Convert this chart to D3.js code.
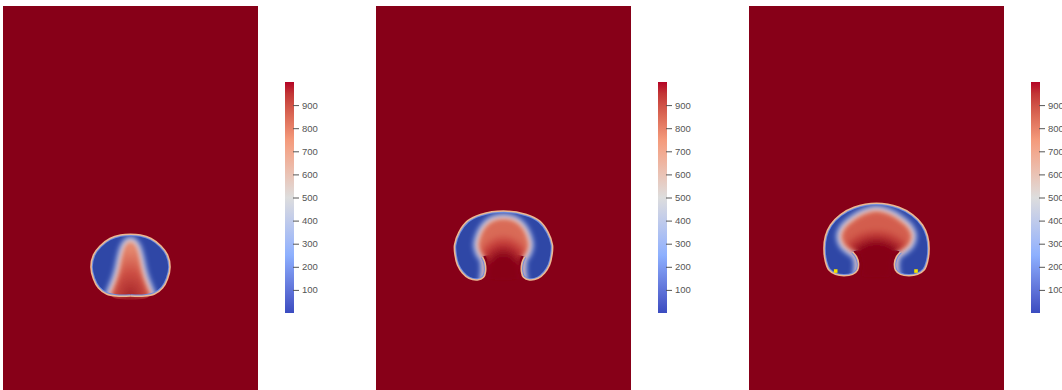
<!DOCTYPE html>
<html>
<head>
<meta charset="utf-8" />
<style>
  body { margin: 0; background: #fff; }
  svg { display: block; }
</style>
</head>
<body>
<svg id="chart"></svg>
<script src="https://d3js.org/d3.v7.min.js"></script>
<script>
const WIDTH = 1062
const HEIGHT = 390

// colour bar ticks
const TICKS = [100, 200, 300, 400, 500, 600, 700, 800, 900]
const RANGE = [0, 1000]

// bubble outline for each frame (x in [-1, 1], y in [0, 3]),
// open line from the inner cusp on the left, around, to the inner cusp on the right
const outline1 = [
  [0, 0.728], [-0.110, 0.728], [-0.188, 0.744], [-0.251, 0.791], [-0.290, 0.862],
  [-0.310, 0.956], [-0.290, 1.050], [-0.239, 1.120], [-0.161, 1.179], [-0.078, 1.206],
  [0, 1.212],
  [0.078, 1.206], [0.161, 1.179], [0.239, 1.120], [0.290, 1.050], [0.310, 0.956],
  [0.290, 0.862], [0.251, 0.791], [0.188, 0.744], [0.110, 0.728], [0.001, 0.728]
]
const outline2 = [
  [-0.165, 1.034], [-0.145, 0.987], [-0.141, 0.920], [-0.157, 0.875], [-0.204, 0.854],
  [-0.271, 0.867], [-0.322, 0.909], [-0.361, 0.971], [-0.380, 1.050], [-0.384, 1.128],
  [-0.349, 1.229], [-0.282, 1.316], [-0.180, 1.367],
  [0, 1.394],
  [0.180, 1.367], [0.282, 1.316], [0.349, 1.229], [0.384, 1.128], [0.380, 1.050],
  [0.361, 0.971], [0.322, 0.909], [0.271, 0.867], [0.204, 0.854], [0.157, 0.875],
  [0.141, 0.920], [0.145, 0.987], [0.165, 1.034]
]
const outline3 = [
  [-0.188, 1.075], [-0.157, 1.036], [-0.141, 0.985], [-0.149, 0.932], [-0.188, 0.898],
  [-0.255, 0.887], [-0.322, 0.898], [-0.373, 0.932], [-0.400, 0.997], [-0.412, 1.102],
  [-0.400, 1.198], [-0.361, 1.285], [-0.282, 1.366], [-0.176, 1.424],
  [0, 1.455],
  [0.176, 1.424], [0.282, 1.366], [0.361, 1.285], [0.400, 1.198], [0.412, 1.102],
  [0.400, 0.997], [0.373, 0.932], [0.322, 0.898], [0.255, 0.887], [0.188, 0.898],
  [0.149, 0.932], [0.141, 0.985], [0.157, 1.036], [0.188, 1.075]
]

// heavy fluid pushing into the bubble (closed shapes)
const core1 = [
  [0, 1.136], [-0.024, 1.112], [-0.039, 1.073], [-0.055, 1.010], [-0.071, 0.932],
  [-0.094, 0.854], [-0.125, 0.775], [-0.141, 0.720],
  [0.141, 0.720], [0.125, 0.775], [0.094, 0.854], [0.071, 0.932],
  [0.055, 1.010], [0.039, 1.073], [0.024, 1.112]
]
const core2 = [
  [0, 1.316], [-0.078, 1.300], [-0.133, 1.253], [-0.165, 1.191], [-0.180, 1.128],
  [-0.165, 1.073], [-0.133, 1.026], [-0.125, 0.963], [-0.125, 0.900], [-0.130, 0.860],
  [0.130, 0.860], [0.125, 0.900], [0.125, 0.963], [0.133, 1.026], [0.165, 1.073],
  [0.180, 1.128], [0.165, 1.191], [0.133, 1.253], [0.078, 1.300]
]
const core3 = [
  [0, 1.379], [-0.094, 1.355], [-0.173, 1.308], [-0.235, 1.253], [-0.259, 1.198],
  [-0.243, 1.144], [-0.200, 1.104], [-0.145, 1.065], [-0.122, 0.987], [-0.125, 0.916],
  [-0.130, 0.880],
  [0.130, 0.880], [0.125, 0.916], [0.122, 0.987], [0.145, 1.065], [0.200, 1.104],
  [0.243, 1.144], [0.259, 1.198], [0.235, 1.253], [0.173, 1.308], [0.094, 1.355]
]
// value inside the core, [offset, value] from the bottom centre outward
const coreStops1 = [[0, 960], [0.5, 880], [1, 770]]
const coreStops2 = [[0, 1000], [0.45, 1000], [0.8, 900], [1, 840]]
const coreStops3 = [[0, 1000], [0.6, 1000], [0.85, 910], [1, 860]]

// tracer particles in the last frame
const particles3 = [[-0.32, 0.924], [0.31, 0.924]]

const frames = [
  { outline: outline1, core: core1, stops: coreStops1, cy: 1.0, r: 1.0, particles: [] },
  { outline: outline2, core: core2, stops: coreStops2, cy: 0.91, r: 0.7, particles: [] },
  { outline: outline3, core: core3, stops: coreStops3, cy: 0.89, r: 0.66, particles: particles3 }
]

// layout
const PANEL_LEFT = [3, 376, 749]
const PANEL_W = 255
const PANEL_TOP = 6
const PANEL_BOTTOM = 389
const BAR_DX = 282
const BAR_W = 9
const BAR_TOP = 82
const BAR_BOTTOM = 313

// colours of the field inside the panels
const fieldColor = d3.scaleLinear()
  .domain([0, 250, 500, 750, 900, 1000])
  .range(['#2f47a6', '#89a8ee', '#dcd7d2', '#f0a283', '#c7403b', '#870018'])
  .interpolate(d3.interpolateLab)

// colour bar colours (cool to warm)
const barColor = d3.scaleLinear()
  .domain([0, 250, 500, 750, 1000])
  .range(['#3b4cc0', '#8db0fe', '#dddddd', '#f49a7b', '#b40426'])
  .interpolate(d3.interpolateLab)

const svg = d3.select('#chart')
  .attr('width', WIDTH)
  .attr('height', HEIGHT)

const defs = svg.append('defs')

const blurCore = defs.append('filter')
  .attr('id', 'blur-core')
  .attr('x', '-30%').attr('y', '-30%').attr('width', '160%').attr('height', '160%')
blurCore.append('feGaussianBlur').attr('stdDeviation', 2.4)

const blurRing = defs.append('filter')
  .attr('id', 'blur-ring')
  .attr('x', '-10%').attr('y', '-10%').attr('width', '120%').attr('height', '120%')
blurRing.append('feGaussianBlur').attr('stdDeviation', 0.55)

// vertical gradient for the colour bar
const barGrad = defs.append('linearGradient')
  .attr('id', 'bar-grad')
  .attr('x1', 0).attr('y1', 1).attr('x2', 0).attr('y2', 0)
barGrad.selectAll('stop')
  .data(d3.range(0, 1.0001, 0.05))
  .enter()
  .append('stop')
  .attr('offset', d => d)
  .attr('stop-color', d => barColor(RANGE[0] + d * (RANGE[1] - RANGE[0])))

frames.forEach((f, i) => {
  const left = PANEL_LEFT[i]
  const x = d3.scaleLinear().domain([-1, 1]).range([left, left + PANEL_W])
  const y = d3.scaleLinear().domain([0, 3]).range([PANEL_BOTTOM, PANEL_TOP])

  const closed = d3.line().x(d => x(d[0])).y(d => y(d[1])).curve(d3.curveCatmullRomClosed)
  const open = d3.line().x(d => x(d[0])).y(d => y(d[1])).curve(d3.curveCatmullRom)

  // the bubble alone
  defs.append('clipPath')
    .attr('id', `clip-bubble-${i}`)
    .append('path')
    .attr('d', closed(f.outline))
  // bubble plus the core
  const clip = defs.append('clipPath').attr('id', `clip-core-${i}`)
  clip.append('path').attr('d', closed(f.outline))
  clip.append('path').attr('d', closed(f.core))

  const grad = defs.append('radialGradient')
    .attr('id', `core-grad-${i}`)
    .attr('cx', 0.5).attr('cy', f.cy).attr('r', f.r)
    .attr('fx', 0.5).attr('fy', f.cy)
  f.stops.forEach(([o, v]) => {
    grad.append('stop').attr('offset', o).attr('stop-color', fieldColor(v))
  })

  const g = svg.append('g')

  // heavy fluid everywhere
  g.append('rect')
    .attr('x', x(-1))
    .attr('y', y(3))
    .attr('width', x(1) - x(-1))
    .attr('height', HEIGHT - y(3))
    .attr('fill', fieldColor(1000))

  // light fluid
  g.append('path')
    .attr('d', closed(f.outline))
    .attr('fill', fieldColor(0))

  // mixing layer around the intruding heavy fluid
  const bandG = g.append('g')
    .attr('clip-path', `url(#clip-bubble-${i})`)
    .append('g')
    .attr('filter', 'url(#blur-core)')
  const bands = [[280, 15], [500, 10.5], [690, 6.5], [820, 2.5]]
  bands.forEach(([v, w]) => {
    bandG.append('path')
      .attr('d', closed(f.core))
      .attr('fill', fieldColor(v))
      .attr('stroke', fieldColor(v))
      .attr('stroke-width', w)
      .attr('stroke-linejoin', 'round')
  })

  // heavy fluid inside
  g.append('g')
    .attr('clip-path', `url(#clip-core-${i})`)
    .append('path')
    .attr('filter', 'url(#blur-core)')
    .attr('d', closed(f.core))
    .attr('fill', `url(#core-grad-${i})`)

  // thin interface
  const ring = g.append('g').attr('filter', 'url(#blur-ring)')
  ring.append('path')
    .attr('d', open(f.outline))
    .attr('clip-path', `url(#clip-bubble-${i})`)
    .attr('fill', 'none')
    .attr('stroke', '#6f8ee0')
    .attr('stroke-width', 3.6)
  ring.append('path')
    .attr('d', open(f.outline))
    .attr('fill', 'none')
    .attr('stroke', '#ecb892')
    .attr('stroke-width', 1.6)

  // particles
  g.selectAll('rect.particle')
    .data(f.particles)
    .enter()
    .append('rect')
    .attr('class', 'particle')
    .attr('x', d => x(d[0]) - 1.8)
    .attr('y', d => y(d[1]) - 1.8)
    .attr('width', 3.6)
    .attr('height', 3.6)
    .attr('fill', '#f4e400')

  // colour bar
  const barX = left + BAR_DX
  const barScale = d3.scaleLinear().domain(RANGE).range([BAR_BOTTOM, BAR_TOP])
  svg.append('rect')
    .attr('x', barX)
    .attr('y', BAR_TOP)
    .attr('width', BAR_W)
    .attr('height', BAR_BOTTOM - BAR_TOP)
    .attr('fill', 'url(#bar-grad)')

  const axis = d3.axisRight(barScale)
    .tickValues(TICKS)
    .tickSize(6)
    .tickPadding(3)
  const axisG = svg.append('g')
    .attr('transform', `translate(${barX + BAR_W - 1}, 0)`)
    .call(axis)
  axisG.select('.domain').remove()
  axisG.selectAll('line').attr('stroke', '#555')
  axisG.selectAll('text')
    .attr('fill', '#555')
    .style('font-family', '"Liberation Sans", Arial, sans-serif')
    .style('font-size', '9.5px')
})
</script>
</body>
</html>
